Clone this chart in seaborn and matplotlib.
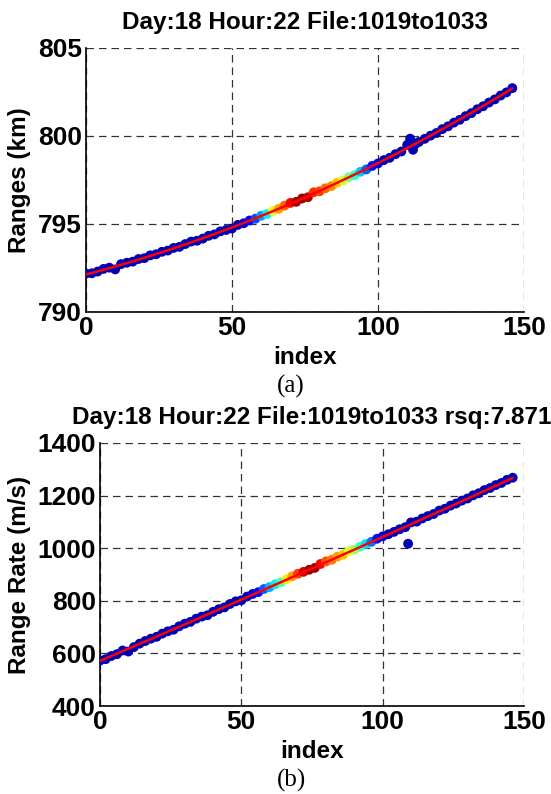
import numpy as np
import pandas as pd
import seaborn as sns
import matplotlib
import matplotlib.pyplot as plt

# panel (a): range vs index
range_idx = [0, 2, 4, 6, 8, 10, 12, 14, 16, 18, 20, 22, 24, 26, 28, 30, 32, 34, 36, 38,
             40, 42, 44, 46, 48, 50, 52, 54, 56, 58, 60, 62, 64, 66, 68, 70, 72, 74, 76, 78,
             80, 82, 84, 86, 88, 90, 92, 94, 96, 98, 100, 102, 104, 106, 108, 110, 111, 112, 113,
             114, 116, 118, 120, 122, 124, 126, 128, 130, 132, 134, 136, 138, 140, 142, 144, 146]
range_km = [792.18, 792.20, 792.30, 792.45, 792.52, 792.42, 792.72, 792.80, 792.86, 793.01,
            793.06, 793.22, 793.28, 793.42, 793.49, 793.64, 793.70, 793.86, 794.00, 794.05,
            794.17, 794.33, 794.41, 794.58, 794.66, 794.74, 794.95, 795.04, 795.20, 795.30,
            795.47, 795.57, 795.74, 795.86, 796.04, 796.20, 796.26, 796.45, 796.52, 796.80,
            796.86, 797.03, 797.15, 797.35, 797.47, 797.66, 797.78, 797.97, 798.10, 798.30,
            798.44, 798.63, 798.76, 798.97, 799.12, 799.50, 799.85, 799.22, 799.57,
            799.66, 799.84, 800.02, 800.17, 800.39, 800.55, 800.76, 800.92, 801.13, 801.30,
            801.52, 801.69, 801.90, 802.08, 802.30, 802.48, 802.72]
range_col = [0.05, 0.05, 0.05, 0.05, 0.05, 0.05, 0.05, 0.05, 0.05, 0.05,
             0.05, 0.05, 0.05, 0.05, 0.05, 0.05, 0.05, 0.05, 0.05, 0.05,
             0.05, 0.05, 0.05, 0.05, 0.05, 0.05, 0.05, 0.08, 0.12, 0.20,
             0.28, 0.36, 0.62, 0.74, 0.80, 0.90, 0.96, 0.98, 0.95, 0.86,
             0.84, 0.80, 0.76, 0.70, 0.60, 0.50, 0.40, 0.32, 0.22, 0.14,
             0.08, 0.05, 0.05, 0.05, 0.05, 0.05, 0.05, 0.05, 0.05,
             0.05, 0.05, 0.05, 0.05, 0.05, 0.05, 0.05, 0.05, 0.05, 0.05,
             0.05, 0.05, 0.05, 0.05, 0.05, 0.05, 0.05]

# panel (b): range rate vs index
rate_idx = [0, 2, 4, 6, 8, 10, 12, 14, 16, 18, 20, 22, 24, 26, 28, 30, 32, 34, 36, 38,
            40, 42, 44, 46, 48, 50, 52, 54, 56, 58, 60, 62, 64, 66, 68, 70, 72, 74, 76, 78,
            80, 82, 84, 86, 88, 90, 92, 94, 96, 98, 100, 102, 104, 106, 108, 109, 110, 112,
            114, 116, 118, 120, 122, 124, 126, 128, 130, 132, 134, 136, 138, 140, 142, 144, 146]
rate_ms = [573, 578, 590, 597, 611, 607, 624, 637, 647, 656, 663, 675, 684, 690, 703, 713,
           720, 732, 740, 745, 758, 768, 775, 788, 798, 802, 816, 826, 833, 845, 852, 863,
           870, 882, 893, 903, 910, 918, 925, 940, 950, 956, 968, 975, 988, 995, 1006, 1016,
           1024, 1036, 1045, 1053, 1062, 1072, 1080, 1017, 1098, 1101,
           1113, 1122, 1130, 1143, 1150, 1162, 1170, 1181, 1189, 1201, 1209, 1221, 1229,
           1240, 1248, 1260, 1268]
rate_col = [0.05, 0.05, 0.05, 0.05, 0.05, 0.05, 0.05, 0.05, 0.05, 0.05,
            0.05, 0.05, 0.05, 0.05, 0.05, 0.05, 0.05, 0.05, 0.05, 0.05,
            0.05, 0.05, 0.05, 0.05, 0.05, 0.05, 0.05, 0.08, 0.14, 0.22,
            0.30, 0.36, 0.45, 0.66, 0.74, 0.84, 0.92, 0.97, 0.98, 0.90,
            0.82, 0.78, 0.74, 0.70, 0.62, 0.55, 0.42, 0.34, 0.24, 0.14,
            0.08, 0.05, 0.05, 0.05, 0.05, 0.05, 0.05, 0.05,
            0.05, 0.05, 0.05, 0.05, 0.05, 0.05, 0.05, 0.05, 0.05, 0.05,
            0.05, 0.05, 0.05, 0.05, 0.05, 0.05, 0.05]

sns.set_style('white')
plt.rcParams['font.family'] = ['Liberation Sans', 'DejaVu Sans']
plt.rcParams['font.weight'] = 'bold'
plt.rcParams['text.color'] = 'black'
plt.rcParams['axes.labelcolor'] = 'black'
plt.rcParams['xtick.color'] = 'black'
plt.rcParams['ytick.color'] = 'black'

jet = matplotlib.colormaps['jet']

fig = plt.figure(figsize=(5.51, 7.94), dpi=100)
ax1 = fig.add_axes([86 / 551, 1 - 312 / 794, 438 / 551, 264 / 794])
ax2 = fig.add_axes([100 / 551, 1 - 706 / 794, 424 / 551, 263 / 794])


def draw_panel(ax, x, y, c, title, ylabel, ylim, yticks, ylab_x):
    df = pd.DataFrame({'index': x, 'value': y, 'c': c})
    sns.scatterplot(data=df, x='index', y='value', hue='c', palette=jet,
                    hue_norm=(0, 1), s=50, linewidth=0, legend=False, ax=ax, zorder=3)
    sns.regplot(data=df, x='index', y='value', order=2, scatter=False, ci=None,
                color='red', line_kws={'lw': 1.8, 'zorder': 4}, ax=ax)
    ax.set_xlim(0, 150)
    ax.set_ylim(*ylim)
    ax.set_xticks([0, 50, 100, 150])
    ax.set_yticks(yticks)
    ax.grid(True, color='#333333', linestyle=(0, (6, 4)), linewidth=0.9)
    ax.set_axisbelow(True)
    for side in ['top', 'right']:
        ax.spines[side].set_visible(False)
    for side in ['left', 'bottom']:
        ax.spines[side].set_color('black')
        ax.spines[side].set_linewidth(1.2)
    ax.tick_params(labelsize=19, direction='in', length=4, width=1, pad=3)
    ax.set_title(title, fontsize=17.5, fontweight='bold', pad=14)
    ax.set_xlabel('index', fontsize=17.5, fontweight='bold')
    ax.set_ylabel(ylabel, fontsize=17.5, fontweight='bold')
    ax.xaxis.set_label_coords(0.5, -0.13)
    ax.yaxis.set_label_coords(ylab_x, 0.5)


draw_panel(ax1, range_idx, range_km, range_col, 'Day:18 Hour:22 File:1019to1033',
           'Ranges (km)', (790, 805), [790, 795, 800, 805], -0.126)
draw_panel(ax2, rate_idx, rate_ms, rate_col, 'Day:18 Hour:22 File:1019to1033 rsq:7.871',
           'Range Rate (m/s)', (400, 1400), [400, 600, 800, 1000, 1200, 1400], -0.163)

fig.text(291 / 551, 1 - 386 / 794, '(a)', family='Liberation Serif', fontweight='normal',
         fontsize=18, ha='center', va='center')
fig.text(291 / 551, 1 - 780 / 794, '(b)', family='Liberation Serif', fontweight='normal',
         fontsize=18, ha='center', va='center')

fig.savefig('out.png', dpi=100)
